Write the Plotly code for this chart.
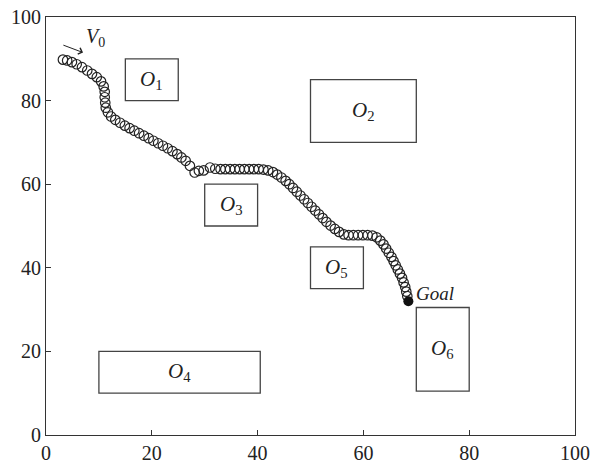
import plotly.graph_objects as go

# Path of the robot (circles)
path_x = [3.2, 4.0, 4.9, 5.8, 6.8, 7.8, 8.7, 9.6, 10.4, 10.9, 11.1, 11.1, 11.2, 11.3, 11.7,
          12.3, 13.1, 14.0, 14.9, 15.8, 16.7, 17.6, 18.5, 19.4, 20.3, 21.2, 22.1, 23.0, 23.9,
          24.8, 25.6, 26.4, 27.2, 28.1, 28.9, 29.8, 31.0, 32.0, 33.0, 33.9, 34.8, 35.7, 36.6,
          37.5, 38.4, 39.3, 40.2, 41.1, 42.0, 42.9, 43.7, 44.5, 45.3, 46.0, 46.7, 47.4, 48.1,
          48.8, 49.5, 50.2, 50.9, 51.6, 52.3, 53.0, 53.8, 54.6, 55.4, 56.3, 57.2, 58.1, 59.0,
          59.9, 60.8, 61.7, 62.5, 63.2, 63.8, 64.3, 64.8, 65.3, 65.7, 66.1, 66.5, 66.9, 67.3,
          67.6, 67.9, 68.1, 68.3]
path_y = [89.8, 89.6, 89.2, 88.7, 88.0, 87.2, 86.4, 85.6, 84.6, 83.4, 82.1, 80.8, 79.5, 78.3, 77.2,
          76.2, 75.4, 74.7, 74.0, 73.4, 72.8, 72.2, 71.6, 71.0, 70.4, 69.8, 69.2, 68.6, 67.9,
          67.2, 66.4, 65.6, 64.4, 62.8, 63.2, 63.3, 64.0, 63.7, 63.6, 63.6, 63.6, 63.6, 63.6,
          63.6, 63.6, 63.6, 63.6, 63.5, 63.3, 62.9, 62.3, 61.6, 60.8, 60.0, 59.1, 58.2, 57.3,
          56.4, 55.5, 54.6, 53.7, 52.8, 51.9, 51.0, 50.1, 49.3, 48.6, 48.0, 47.8, 47.8, 47.8,
          47.8, 47.8, 47.7, 47.3, 46.5, 45.6, 44.6, 43.6, 42.6, 41.6, 40.6, 39.6, 38.6, 37.6,
          36.5, 35.4, 34.3, 33.2]

goal_x = [68.5]
goal_y = [32.0]

# Obstacles: name, x0, x1, y0, y1
obs_names = ["1", "2", "3", "4", "5", "6"]
obs_x0 = [15, 50, 30, 10, 50, 70]
obs_x1 = [25, 70, 40, 40.5, 60, 80]
obs_y0 = [80, 70, 50, 10, 35, 10.5]
obs_y1 = [90, 85, 60, 20, 45, 30.5]

tick_vals = [0, 20, 40, 60, 80, 100]

SERIF = "Liberation Serif"

fig = go.Figure()
fig.add_trace(go.Scatter(
    x=path_x, y=path_y, mode="markers",
    marker=dict(symbol="circle-open", size=9.5, color="#222", line=dict(width=1.2, color="#222")),
    showlegend=False, hoverinfo="skip"))
fig.add_trace(go.Scatter(
    x=goal_x, y=goal_y, mode="markers",
    marker=dict(symbol="circle", size=10, color="#111"),
    showlegend=False, hoverinfo="skip"))

for n, x0, x1, y0, y1 in zip(obs_names, obs_x0, obs_x1, obs_y0, obs_y1):
    fig.add_shape(type="rect", x0=x0, x1=x1, y0=y0, y1=y1, xref="x", yref="y",
                  line=dict(color="#444", width=1.3), fillcolor="rgba(0,0,0,0)")
    fig.add_annotation(x=(x0 + x1) / 2, y=(y0 + y1) / 2, xref="x", yref="y",
                       text=f"<i>O</i><sub>{n}</sub>", showarrow=False,
                       font=dict(family=SERIF, size=21, color="#222"))

fig.add_annotation(x=69.6, y=33.8, xref="x", yref="y", text="<i>Goal</i>", showarrow=False,
                   xanchor="left", font=dict(family=SERIF, size=19, color="#222"))
fig.add_annotation(x=7.2, y=95.0, xref="x", yref="y", text="<i>V</i><sub>0</sub>", showarrow=False,
                   xanchor="left", font=dict(family=SERIF, size=20, color="#222"))
fig.add_annotation(x=7.0, y=91.5, ax=3.0, ay=93.4, xref="x", yref="y", axref="x", ayref="y",
                   text="", showarrow=True, arrowhead=4, arrowsize=1.3, arrowwidth=1, arrowcolor="#222")

axis_common = dict(range=[0, 100], tickvals=tick_vals, ticks="inside", ticklen=5, tickwidth=1,
                   tickcolor="#333", showline=True, linecolor="#333", linewidth=1, mirror=True,
                   showgrid=False, zeroline=False, automargin=False,
                   tickfont=dict(family=SERIF, size=20, color="#222"))

fig.update_layout(
    width=592, height=465,
    margin=dict(l=46, r=17, t=17, b=30),
    plot_bgcolor="white", paper_bgcolor="white",
    xaxis=axis_common, yaxis=axis_common,
)

fig.write_html("out.html", config={"displayModeBar": False},
               post_script="document.body.style.margin='0';document.body.style.overflow='hidden';")
